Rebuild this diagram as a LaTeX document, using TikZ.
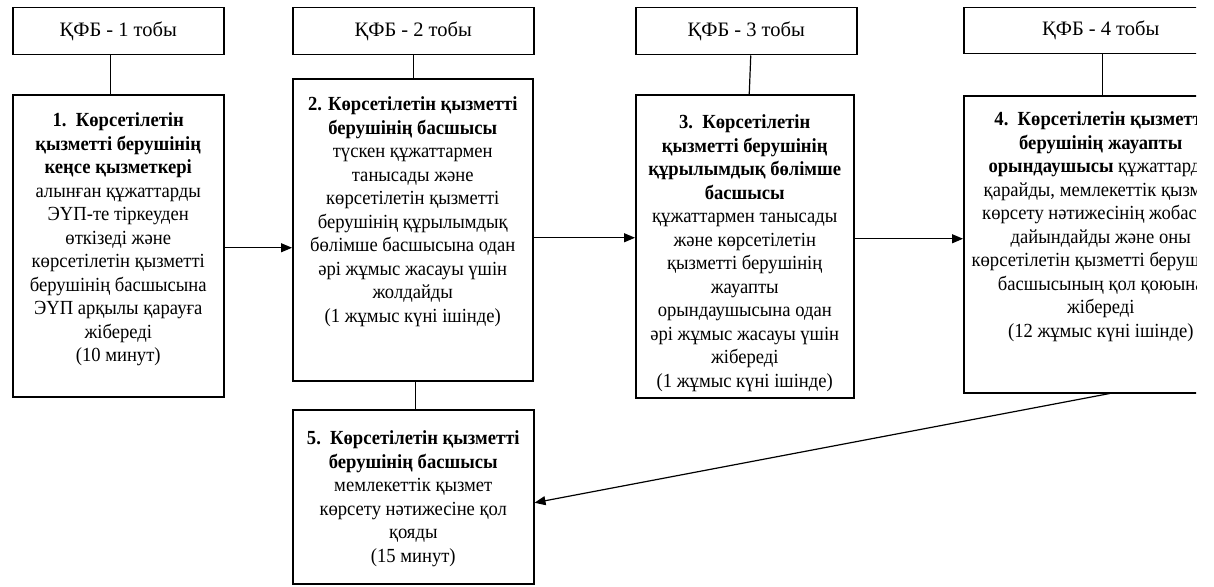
\documentclass[tikz,border=0pt]{standalone}
\usepackage{fontspec}
\setmainfont{Liberation Serif}[FakeStretch=0.93]
\newfontfamily\hdrfont{Liberation Serif}
\usetikzlibrary{arrows.meta}
\newcommand\mybody[4]{\parbox[c][#2][t]{#1}{\centering\vspace*{#3}\makebox[#1][c]{\begin{tabular}[t]{@{}c@{}}#4\end{tabular}}}}
\tikzset{
  x=1pt, y=1pt,
  boxnode/.style={draw, line width=1.5pt, inner sep=0pt, anchor=north west,
    font=\fontsize{20pt}{23.5pt}\selectfont},
  hdrnode/.style={boxnode, align=center, font=\hdrfont\fontsize{20.5pt}{24pt}\selectfont},
  conn/.style={line width=1.2pt},
  arr/.style={line width=1.2pt, -{Triangle[length=11pt,width=9pt]}}
}
\begin{document}
\begin{tikzpicture}
\useasboundingbox (0,0) rectangle (1214,-586);
\fill[white] (0,0) rectangle (1214,-586);
\begin{scope}
\clip (0,0) rectangle (1196,-586);
% headers
\node[hdrnode, minimum width=211pt, minimum height=47pt] (h1) at (12,-7) {ҚФБ - 1 тобы};
\node[hdrnode, minimum width=241pt, minimum height=47pt] (h2) at (292,-7) {ҚФБ - 2 тобы};
\node[hdrnode, minimum width=221pt, minimum height=47pt] (h3) at (635,-7) {ҚФБ - 3 тобы};
\node[hdrnode, minimum width=274pt, minimum height=46pt] (h4) at (963,-7) {ҚФБ - 4 тобы};
% boxes
\node[boxnode] (b1) at (12,-94) {\mybody{211pt}{302pt}{15.5pt}{%
\textbf{1.\ \ Көрсетілетін}\\
\textbf{қызметті берушінің}\\
\textbf{кеңсе қызметкері}\\
алынған құжаттарды\\
ЭҮП-те тіркеуден\\
өткізеді және\\
көрсетілетін қызметті\\
берушінің басшысына\\
ЭҮП арқылы қарауға\\
жібереді\\
(10 минут)}};
\node[boxnode] (b2) at (292,-78) {\mybody{240pt}{302pt}{15.5pt}{%
\textbf{2. Көрсетілетін қызметті}\\
\textbf{берушінің басшысы}\\
түскен құжаттармен\\
танысады және\\
көрсетілетін қызметті\\
берушінің құрылымдық\\
бөлімше басшысына одан\\
әрі жұмыс жасауы үшін\\
жолдайды\\
(1 жұмыс күні ішінде)}};
\node[boxnode] (b3) at (635,-94) {\mybody{218pt}{303pt}{17.5pt}{%
\textbf{3.\ \ Көрсетілетін}\\
\textbf{қызметті берушінің}\\
\textbf{құрылымдық бөлімше}\\
\textbf{басшысы}\\
құжаттармен танысады\\
және көрсетілетін\\
қызметті берушінің\\
жауапты\\
орындаушысына одан\\
әрі жұмыс жасауы үшін\\
жібереді\\
(1 жұмыс күні ішінде)}};
\node[boxnode] (b4) at (963,-95) {\mybody{274pt}{297pt}{13.5pt}{%
\textbf{4.\ \ Көрсетілетін қызметті}\\
\textbf{берушінің жауапты}\\
\textbf{орындаушысы} құжаттарды\\
қарайды, мемлекеттік қызмет\\
көрсету нәтижесінің жобасын\\
дайындайды және оны\\
көрсетілетін қызметті берушінің\\
басшысының қол қоюына\\
жібереді\\
(12 жұмыс күні ішінде)}};
\node[boxnode] (b5) at (292,-409) {\mybody{241pt}{174pt}{18.5pt}{%
\textbf{5.\ \ Көрсетілетін қызметті}\\
\textbf{берушінің басшысы}\\
мемлекеттік қызмет\\
көрсету нәтижесіне қол\\
қояды\\
(15 минут)}};
% vertical connectors
\draw[conn] ([xshift=-7.5pt]h1.south) -- ([xshift=-7.5pt]b1.north);
\draw[conn] (h2.south) -- (h2.south |- b2.north);
\draw[conn] ([xshift=4.5pt]h3.south) -- ([xshift=4.5pt]b3.north);
\draw[conn] ([xshift=2pt]h4.south) -- ([xshift=2pt]b4.north);
\draw[conn] ([xshift=3pt]b2.south) -- ([xshift=3pt]b2.south |- b5.north);
% arrows
\draw[arr] ([yshift=-2pt]b1.east) -- ([yshift=-2pt]b1.east -| b2.west);
\draw[arr] ([yshift=-8pt]b2.east) -- ([yshift=-8pt]b2.east -| b3.west);
\draw[arr] ([yshift=7.5pt]b3.east) -- ([yshift=7.5pt]b3.east -| b4.west);
\draw[arr] ([xshift=9pt]b4.south) -- ([yshift=-6pt]b5.east);
\end{scope}
\end{tikzpicture}
\end{document}
